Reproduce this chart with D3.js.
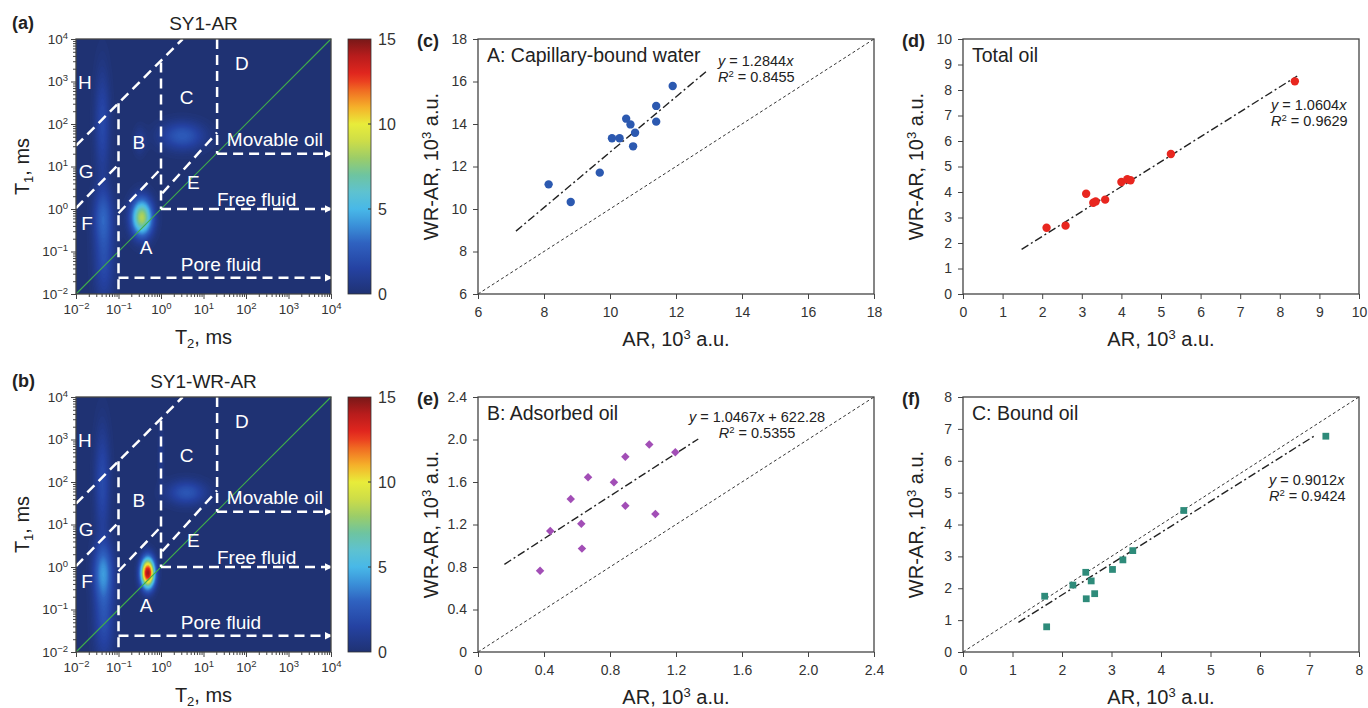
<!DOCTYPE html>
<html>
<head>
<meta charset="utf-8">
<title>T1-T2 maps and WR-AR vs AR</title>
<script src="https://d3js.org/d3.v7.min.js"></script>
<style>
  body { margin: 0; background: #fff; }
  text { font-family: "Liberation Sans", Arial, sans-serif; fill: #222; }
</style>
</head>
<body>
<script>
// ---------- data ----------
// T1-T2 map components in log10 ms: [T2 centre, T1 centre, spread T2, spread T1, amplitude]
var peaksAR = [
  [-0.45, -0.20, 0.17, 0.30, 8.6],   // A
  [-1.36, -0.15, 0.16, 0.45, 2.4],   // F
  [-1.34, -1.20, 0.17, 0.70, 2.0],   // lower streak
  [-1.38,  2.00, 0.13, 0.90, 1.9],   // G-H streak
  [ 0.50,  1.72, 0.36, 0.23, 2.7],   // B-C
  [-0.50,  1.60, 0.10, 0.22, 1.2]
];
var peaksWRAR = [
  [-0.31, -0.14, 0.11, 0.24, 14.6],
  [-1.36, -0.10, 0.16, 0.45, 3.6],
  [-1.34, -1.20, 0.17, 0.70, 2.2],
  [-1.38,  2.00, 0.13, 0.90, 2.0],
  [ 0.60,  1.75, 0.32, 0.20, 2.5],
  [ 0.00,  2.60, 0.05, 0.50, 0.9]
];
var mapTitles = ["SY1-AR", "SY1-WR-AR"];
var mapLabels = ["(a)", "(b)"];
var decadeTicks = [-2, -1, 0, 1, 2, 3, 4];
var colorbarTicks = [0, 5, 10, 15];

// region boundaries, log10 (T2, T1)
var boundaryLines = [
  [[-2, 1.49], [0.51, 4]],
  [[-2, 0.02], [-1, 1.05]],
  [[-1, 2.49], [-1, -2]],
  [[-1, -0.10], [0, 0.95]],
  [[0, 3.45], [0, 0]],
  [[0.03, 0.37], [1.32, 1.80]],
  [[1.32, 4], [1.32, 1.30]]
];
var arrowLines = [
  [[0, 0], [4, 0]],
  [[1.32, 1.30], [4, 1.30]],
  [[-1, -1.62], [4, -1.62]]
];
var regionNames = ["H", "G", "F", "A", "B", "C", "D", "E", "Movable oil", "Free fluid", "Pore fluid"];
var regionT2 = [-1.79, -1.76, -1.74, -0.35, -0.52, 0.60, 1.90, 0.76, 2.68, 2.25, 1.41];
var regionT1 = [2.99, 0.90, -0.33, -0.90, 1.58, 2.64, 3.43, 0.64, 1.65, 0.23, -1.30];

// (c) capillary-bound water
var capAR = [8.14, 8.81, 9.69, 10.06, 10.29, 10.49, 10.62, 10.76, 10.70, 11.40, 11.40, 11.90];
var capWR = [11.16, 10.33, 11.71, 13.33, 13.33, 14.25, 13.98, 13.59, 12.95, 14.85, 14.11, 15.79];
var capFit = [[7.15, 8.96], [12.93, 16.49]];
// (d) total oil
var oilAR = [2.11, 2.59, 3.11, 3.29, 3.35, 3.59, 4.00, 4.15, 4.23, 5.25, 8.38];
var oilWR = [2.60, 2.68, 3.93, 3.58, 3.63, 3.70, 4.39, 4.50, 4.46, 5.49, 8.34];
var oilFit = [[1.48, 1.75], [8.44, 8.55]];
// (e) adsorbed oil
var adsAR = [0.376, 0.438, 0.562, 0.626, 0.630, 0.667, 0.824, 0.893, 0.893, 1.038, 1.075, 1.196];
var adsWR = [0.765, 1.139, 1.440, 1.208, 0.973, 1.644, 1.597, 1.838, 1.377, 1.954, 1.299, 1.880];
var adsFit = [[0.16, 0.825], [1.335, 2.005]];
// (f) bound oil
var bndAR = [1.65, 1.69, 2.22, 2.48, 2.59, 2.49, 2.66, 3.02, 3.23, 3.43, 4.46, 7.33];
var bndWR = [1.75, 0.79, 2.10, 2.50, 2.23, 1.67, 1.83, 2.59, 2.89, 3.18, 4.44, 6.77];
var bndFit = [[1.12, 0.93], [7.10, 6.78]];

// jet-like colour map of the T1-T2 maps
var cmapStops = [0, 1.5, 3, 4, 5, 6, 7, 8, 9, 10, 11, 12, 12.8, 14, 15];
var cmapColors = ["#1f3273", "#2542a2", "#2f62c0", "#3a8fd8", "#48b8e8", "#5ec2d0", "#6ec4a0",
                  "#9ccd68", "#cddd48", "#e8ec3a", "#f5b02a", "#f06a22", "#e8281e", "#b81c1c", "#781818"];

// ---------- chart ----------
var svg = d3.select("body").append("svg").attr("width", 1368).attr("height", 708);
var defs = svg.append("defs");
var color = d3.scaleLinear().domain(cmapStops).range(cmapColors).clamp(true);

var mapLeft = 76, mapSize = 255, mapTops = [39, 397];

defs.append("marker").attr("id", "arrow")
    .attr("viewBox", "0 0 10 10").attr("refX", 8).attr("refY", 5)
    .attr("markerWidth", 3).attr("markerHeight", 3).attr("orient", "auto")
  .append("path").attr("d", "M0,0L10,5L0,10Z").attr("fill", "#fff");

var grad = defs.append("linearGradient").attr("id", "cbar")
    .attr("x1", 0).attr("y1", 1).attr("x2", 0).attr("y2", 0);
d3.range(0, 15.01, 0.5).forEach(function(v) {
  grad.append("stop").attr("offset", v / 15).attr("stop-color", color(v));
});

function supText(sel, base, sup, after, supSize) {
  sel.append("tspan").text(base);
  sel.append("tspan").attr("dy", -7).style("font-size", supSize + "px").text(sup);
  if (after) sel.append("tspan").attr("dy", 7).text(after);
}

function drawMap(k, peaks) {
  var top = mapTops[k];
  var g = svg.append("g").attr("transform", "translate(" + mapLeft + "," + top + ")");
  var lx = d3.scaleLinear().domain([-2, 4]).range([0, mapSize]);
  var ly = d3.scaleLinear().domain([-2, 4]).range([mapSize, 0]);

  // density grid
  var n = 160, vals = new Array(n * n);
  for (var j = 0; j < n; j++) {
    var t1 = ly.invert((j + 0.5) * mapSize / n);
    for (var i = 0; i < n; i++) {
      var t2 = lx.invert((i + 0.5) * mapSize / n), v = 0;
      peaks.forEach(function(p) {
        var a = (t2 - p[0]) / p[2], b = (t1 - p[1]) / p[3];
        v += p[4] * Math.exp(-0.5 * (a * a + b * b));
      });
      vals[j * n + i] = v;
    }
  }
  var levels = d3.range(0.15, 15, 0.15);
  var contours = d3.contours().size([n, n]).thresholds(levels)(vals);
  var path = d3.geoPath(d3.geoIdentity().scale(mapSize / n));

  g.append("rect").attr("width", mapSize).attr("height", mapSize).attr("fill", color(0));
  g.append("g").selectAll("path").data(contours).join("path")
      .attr("d", path).attr("fill", function(d) { return color(d.value); });

  // 1:1 line
  g.append("line").attr("x1", lx(-2)).attr("y1", ly(-2)).attr("x2", lx(4)).attr("y2", ly(4))
      .attr("stroke", "#3fae4a").attr("stroke-width", 1.1);

  var line = d3.line().x(function(d) { return lx(d[0]); }).y(function(d) { return ly(d[1]); });
  g.append("g").selectAll("path").data(boundaryLines).join("path")
      .attr("d", line).attr("fill", "none").attr("stroke", "#fff")
      .attr("stroke-width", 2.5).attr("stroke-dasharray", "10,6");
  g.append("g").selectAll("path").data(arrowLines).join("path")
      .attr("d", line).attr("fill", "none").attr("stroke", "#fff")
      .attr("stroke-width", 2.5).attr("stroke-dasharray", "10,6")
      .attr("marker-end", "url(#arrow)");

  g.append("g").selectAll("text").data(regionNames).join("text")
      .attr("x", function(d, i) { return lx(regionT2[i]); })
      .attr("y", function(d, i) { return ly(regionT1[i]); })
      .attr("dy", "0.36em").attr("text-anchor", "middle")
      .style("font-size", "19px").style("fill", "#fff")
      .text(function(d) { return d; });

  // axes
  var xs = d3.scaleLog().domain([1e-2, 1e4]).range([0, mapSize]);
  var ys = d3.scaleLog().domain([1e-2, 1e4]).range([mapSize, 0]);
  var major = decadeTicks.map(function(e) { return Math.pow(10, e); });
  var minor = [];
  decadeTicks.slice(0, -1).forEach(function(e) {
    d3.range(2, 10).forEach(function(m) { minor.push(m * Math.pow(10, e)); });
  });
  function expLabels(sel) {
    sel.selectAll(".tick text").each(function(d) {
      var e = Math.round(Math.log10(d));
      var t = d3.select(this).text(null);
      t.append("tspan").text("10");
      t.append("tspan").attr("dy", -5).style("font-size", "9.5px").text(e < 0 ? "\u2212" + (-e) : e);
    });
    sel.selectAll(".tick text").style("font-size", "13.5px").style("fill", "#333");
    sel.select(".domain").remove();
    sel.selectAll(".tick line").attr("stroke", "#444");
  }
  g.append("g").attr("transform", "translate(0," + mapSize + ")")
      .call(d3.axisBottom(xs).tickValues(minor).tickSize(3).tickFormat(""))
      .call(function(s) { s.select(".domain").remove(); s.selectAll("line").attr("stroke", "#444"); });
  g.append("g")
      .call(d3.axisLeft(ys).tickValues(minor).tickSize(3).tickFormat(""))
      .call(function(s) { s.select(".domain").remove(); s.selectAll("line").attr("stroke", "#444"); });
  g.append("g").attr("transform", "translate(0," + mapSize + ")")
      .call(d3.axisBottom(xs).tickValues(major).tickSize(5).tickPadding(5)).call(expLabels);
  g.append("g")
      .call(d3.axisLeft(ys).tickValues(major).tickSize(5).tickPadding(3)).call(expLabels);
  g.append("rect").attr("width", mapSize).attr("height", mapSize)
      .attr("fill", "none").attr("stroke", "#444").attr("stroke-width", 1.3);

  // colour bar
  var cb = svg.append("g").attr("transform", "translate(348," + top + ")");
  var cy = d3.scaleLinear().domain([0, 15]).range([mapSize, 0]);
  cb.append("rect").attr("width", 23).attr("height", mapSize)
      .attr("fill", "url(#cbar)").attr("stroke", "#333").attr("stroke-width", 0.8);
  cb.selectAll("line").data([5, 10]).join("line")
      .attr("x1", 20).attr("x2", 23).attr("y1", cy).attr("y2", cy).attr("stroke", "#333");
  cb.selectAll("text").data(colorbarTicks).join("text")
      .attr("x", 30).attr("y", cy).attr("dy", "0.36em")
      .style("font-size", "16px").style("fill", "#333").text(function(d) { return d; });

  // titles
  svg.append("text").attr("x", 12).attr("y", top - 10)
      .style("font-size", "18px").style("font-weight", "bold").text(mapLabels[k]);
  svg.append("text").attr("x", mapLeft + mapSize / 2).attr("y", top - 9)
      .attr("text-anchor", "middle").style("font-size", "19px").text(mapTitles[k]);
  var xt = svg.append("text").attr("x", mapLeft + mapSize / 2).attr("y", top + mapSize + 50)
      .attr("text-anchor", "middle").style("font-size", "20px");
  xt.append("tspan").text("T");
  xt.append("tspan").attr("dy", 4).style("font-size", "13px").text("2");
  xt.append("tspan").attr("dy", -4).text(", ms");
  var yt = svg.append("text").attr("text-anchor", "middle").style("font-size", "20px")
      .attr("transform", "translate(29," + (top + mapSize / 2) + ") rotate(-90)");
  yt.append("tspan").text("T");
  yt.append("tspan").attr("dy", 4).style("font-size", "13px").text("1");
  yt.append("tspan").attr("dy", -4).text(", ms");
}

drawMap(0, peaksAR);
drawMap(1, peaksWRAR);

function drawScatter(o) {
  var w = 396, h = 255;
  var g = svg.append("g").attr("transform", "translate(" + o.left + "," + o.top + ")");
  var x = d3.scaleLinear().domain(o.domain).range([0, w]);
  var y = d3.scaleLinear().domain(o.domain).range([h, 0]);

  function style(s) {
    s.select(".domain").remove();
    s.selectAll(".tick line").attr("stroke", "#444");
    s.selectAll(".tick text").style("font-size", "14px").style("fill", "#333");
  }
  g.append("g").attr("transform", "translate(0," + h + ")")
      .call(d3.axisBottom(x).tickValues(o.ticks).tickFormat(o.fmt).tickSize(5).tickPadding(8)).call(style);
  g.append("g")
      .call(d3.axisLeft(y).tickValues(o.ticks).tickFormat(o.fmt).tickSize(5).tickPadding(6)).call(style);

  if (o.diag) {
    g.append("line").attr("x1", x(o.domain[0])).attr("y1", y(o.domain[0]))
        .attr("x2", x(o.domain[1])).attr("y2", y(o.domain[1]))
        .attr("stroke", "#333").attr("stroke-width", 1).attr("stroke-dasharray", "3,2.5");
  }
  g.append("line").attr("x1", x(o.fit[0][0])).attr("y1", y(o.fit[0][1]))
      .attr("x2", x(o.fit[1][0])).attr("y2", y(o.fit[1][1]))
      .attr("stroke", "#222").attr("stroke-width", 1.4).attr("stroke-dasharray", "8,3,2,3");

  var sym = d3.symbol().type(o.shape).size(o.size);
  g.append("g").selectAll("path").data(o.xs).join("path")
      .attr("transform", function(d, i) {
        return "translate(" + x(d) + "," + y(o.ys[i]) + ")" + (o.rot ? " rotate(45)" : "");
      })
      .attr("d", sym).attr("fill", o.color);

  g.append("rect").attr("width", w).attr("height", h)
      .attr("fill", "none").attr("stroke", "#444").attr("stroke-width", 1.3);

  // equation
  var e1 = g.append("text").attr("x", o.eqX).attr("y", o.eqY[0])
      .attr("text-anchor", o.eqAnchor).style("font-size", "14.5px");
  o.eq.forEach(function(p) {
    e1.append("tspan").style("font-style", p[1] ? "italic" : "normal").text(p[0]);
  });
  var e2 = g.append("text").attr("x", o.eqX).attr("y", o.eqY[1])
      .attr("text-anchor", o.eqAnchor).style("font-size", "14.5px");
  e2.append("tspan").style("font-style", "italic").text("R");
  e2.append("tspan").attr("dy", -5).style("font-size", "9.5px").text("2");
  e2.append("tspan").attr("dy", 5).text(" = " + o.r2);

  g.append("text").attr("x", 9).attr("y", 23).style("font-size", "19.5px").text(o.title);
  svg.append("text").attr("x", o.left - 61).attr("y", o.top + 8)
      .style("font-size", "18px").style("font-weight", "bold").text(o.label);

  var xt = svg.append("text").attr("x", o.left + w / 2).attr("y", o.top + h + 52)
      .attr("text-anchor", "middle").style("font-size", "20px");
  supText(xt, "AR, 10", "3", " a.u.", 13);
  var yt = svg.append("text").attr("text-anchor", "middle").style("font-size", "20px")
      .attr("transform", "translate(" + (o.left - 40) + "," + (o.top + h / 2) + ") rotate(-90)");
  supText(yt, "WR-AR, 10", "3", " a.u.", 13);
}

drawScatter({
  left: 478, top: 39, domain: [6, 18], ticks: d3.range(6, 19, 2), fmt: d3.format("d"),
  xs: capAR, ys: capWR, shape: d3.symbolCircle, size: 55, color: "#2c59b0", fit: capFit, diag: true,
  title: "A: Capillary-bound water", label: "(c)",
  eq: [["y", 1], [" = 1.2844", 0], ["x", 1]], r2: "0.8455", eqX: 240, eqY: [27, 43], eqAnchor: "start"
});
drawScatter({
  left: 963, top: 39, domain: [0, 10], ticks: d3.range(0, 11, 1), fmt: d3.format("d"),
  xs: oilAR, ys: oilWR, shape: d3.symbolCircle, size: 55, color: "#e8261f", fit: oilFit, diag: false,
  title: "Total oil", label: "(d)",
  eq: [["y", 1], [" = 1.0604", 0], ["x", 1]], r2: "0.9629", eqX: 308, eqY: [71, 87], eqAnchor: "start"
});
drawScatter({
  left: 478, top: 397, domain: [0, 2.4], ticks: [0, 0.4, 0.8, 1.2, 1.6, 2.0, 2.4],
  fmt: function(d) { return d === 0 ? "0" : d.toFixed(1); },
  xs: adsAR, ys: adsWR, shape: d3.symbolSquare, size: 36, rot: true, color: "#a24eb6", fit: adsFit, diag: true,
  title: "B: Adsorbed oil", label: "(e)",
  eq: [["y", 1], [" = 1.0467", 0], ["x", 1], [" + 622.28", 0]], r2: "0.5355", eqX: 279, eqY: [25, 41], eqAnchor: "middle"
});
drawScatter({
  left: 963, top: 397, domain: [0, 8], ticks: d3.range(0, 9, 1), fmt: d3.format("d"),
  xs: bndAR, ys: bndWR, shape: d3.symbolSquare, size: 46, color: "#2e8b7a", fit: bndFit, diag: true,
  title: "C: Bound oil", label: "(f)",
  eq: [["y", 1], [" = 0.9012", 0], ["x", 1]], r2: "0.9424", eqX: 306, eqY: [88, 104], eqAnchor: "start"
});
</script>
</body>
</html>
